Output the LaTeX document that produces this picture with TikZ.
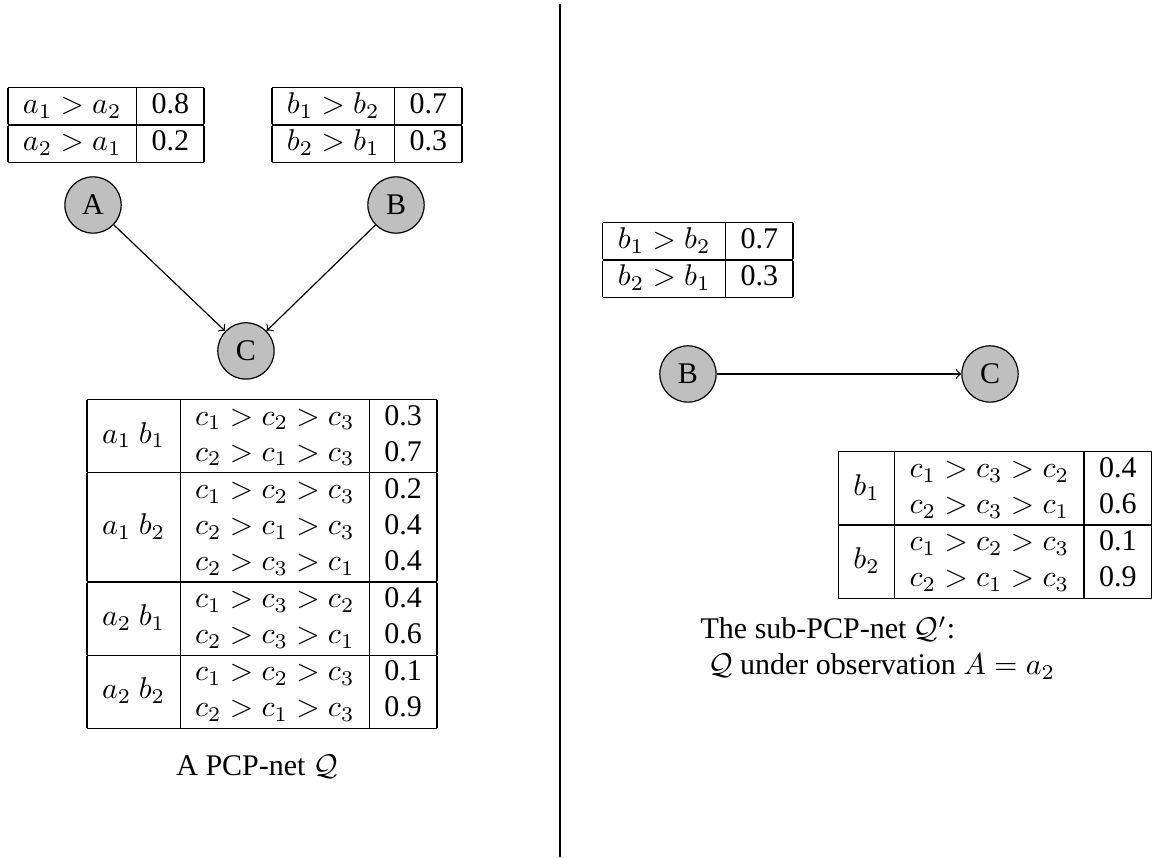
\documentclass[tikz,border=0pt]{standalone}
\usepackage{amsmath,amssymb}
\usepackage{fontspec}
\setmainfont{Liberation Serif}
\usepackage{multirow}
\usepackage{tikz}
\usetikzlibrary{positioning,arrows}
\setlength{\tabcolsep}{5pt}
\tikzset{var/.style={circle, draw, fill=black!25, minimum size=0.66cm, inner sep=0pt},
  cpt/.style={inner sep=0pt}}

\begin{document}
\begin{tikzpicture}
                \useasboundingbox (0,0) rectangle (13.545,10.053);
                % left: the PCP-net
                \node [cpt] (cpta) at (1.242, 8.589) {\begin{tabular}{|c|c|}
                    \hline
                    $a_1 > a_2$ & 0.8\\ \hline
                    $a_2 > a_1$ & 0.2\\ \hline
                \end{tabular}};
                \node [cpt] (cptb) at (4.300, 8.589) {\begin{tabular}{|c|c|}
                    \hline
                    $b_1 > b_2$ & 0.7\\ \hline
                    $b_2 > b_1$ & 0.3\\ \hline
                \end{tabular}};
                \node [var] (A) at (1.090, 7.651) {A};
                \node [var] (B) at (4.640, 7.651) {B};
                \node [var] (C) at (2.882, 5.941) {C};
                \draw [->] (A) -- (C);
                \draw [->] (B) -- (C);
                \node [cpt] (cptc) at (3.070, 3.445) {\begin{tabular}{|c|c|c|}
                    \hline
                    \multirow{2}{*}{$a_1\ b_1$} & $c_1 > c_2 > c_3$ & 0.3\\
                     & $c_2 > c_1 > c_3$ & 0.7\\ \hline
                    \multirow{3}{*}{$a_1\ b_2$} & $c_1 > c_2 > c_3$ & 0.2\\
                     & $c_2 > c_1 > c_3$ & 0.4\\
                     & $c_2 > c_3 > c_1$ & 0.4\\ \hline
                    \multirow{2}{*}{$a_2\ b_1$} & $c_1 > c_3 > c_2$ & 0.4\\
                     & $c_2 > c_3 > c_1$ & 0.6\\ \hline
                    \multirow{2}{*}{$a_2\ b_2$} & $c_1 > c_2 > c_3$ & 0.1\\
                     & $c_2 > c_1 > c_3$ & 0.9\\ \hline
                \end{tabular}};
                \node (capl) at (3.011, 1.066) {A PCP-net $\mathcal{Q}$};
                % separator
                \coordinate (septop) at (6.562, 10.006);
                \coordinate (sepbot) at (6.562, 0.010);
                \draw [semithick] (septop) -- (sepbot);
                % right: the sub-PCP-net
                \node [cpt] (cptb2) at (8.178, 7.007) {\begin{tabular}{|c|c|}
                    \hline
                    $b_1 > b_2$ & 0.7\\ \hline
                    $b_2 > b_1$ & 0.3\\ \hline
                \end{tabular}};
                \node [var] (B2) at (8.061, 5.671) {B};
                \node [var] (C2) at (11.600, 5.671) {C};
                \draw [->] (B2) -- (C2);
                \node [cpt] (cptc2) at (11.658, 3.902) {\begin{tabular}{|c|c|c|}
                    \hline
                    \multirow{2}{*}{$b_1$} & $c_1 > c_3 > c_2$ & 0.4\\
                     & $c_2 > c_3 > c_1$ & 0.6\\ \hline
                    \multirow{2}{*}{$b_2$} & $c_1 > c_2 > c_3$ & 0.1\\
                     & $c_2 > c_1 > c_3$ & 0.9\\ \hline
                \end{tabular}};
                \node [anchor=west, align=left, inner sep=0pt] (capr) at (8.202, 2.461)
                    {The sub-PCP-net $\mathcal{Q}'$:\\ \ $\mathcal{Q}$ under observation $A = a_2$};
\end{tikzpicture}
\end{document}
